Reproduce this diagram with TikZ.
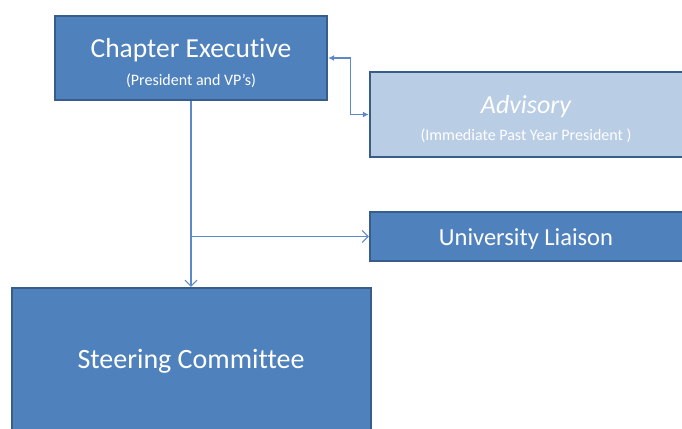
\documentclass[tikz,border=0pt]{standalone}
\usepackage{fontspec}
\setmainfont{Carlito}[Ligatures=NoCommon]
\usetikzlibrary{arrows.meta}
\definecolor{boxfill}{HTML}{4F81BD}
\definecolor{boxedge}{HTML}{385D8A}
\definecolor{advfill}{HTML}{B9CDE5}
\definecolor{conn}{HTML}{5B8AC6}
\tikzset{
  orgbox/.style={rectangle, draw=boxedge, line width=2.4pt, fill=boxfill, inner sep=0pt},
  advbox/.style={orgbox, fill=advfill},
  boxtext/.style={text=white, anchor=base, inner sep=0pt},
  link/.style={draw=conn, line width=1.1pt},
  openarrow/.style={-{Straight Barb[length=6pt,width=12pt,line width=1pt]}},
  solidarrows/.style={{Latex[length=6pt,width=6pt]}-{Latex[length=6pt,width=6pt]}}
}
\begin{document}
\begin{tikzpicture}[x=1pt,y=-1pt]
\useasboundingbox (0,0) rectangle (682,428);
\node[orgbox, minimum width=272pt, minimum height=84pt] (chap) at (191,58) {};
\node[advbox, minimum width=320pt, minimum height=85pt] (adv) at (530,114.5) {};
\node[orgbox, minimum width=320pt, minimum height=49pt] (univ) at (530,236.5) {};
\node[orgbox, minimum width=359pt, minimum height=146pt] (steer) at (191.5,361) {};
\node[boxtext, font=\fontsize{27.5}{30}\selectfont] (chapT) at (191,57) {Chapter Executive};
\node[boxtext, font=\fontsize{16}{20}\selectfont] (chapS) at (191,85) {(President and VP’s)};
\node[boxtext, font=\fontsize{26}{30}\selectfont\itshape] (advT) at (526,113) {Advisory};
\node[boxtext, font=\fontsize{16}{20}\selectfont] (advS) at (526,140) {(Immediate Past Year President )};
\node[boxtext, font=\fontsize{24.5}{28}\selectfont] (univT) at (526,245) {University Liaison};
\node[boxtext, font=\fontsize{28}{32}\selectfont] (steerT) at (191,368) {Steering Committee};
\coordinate (br) at (chap.south |- univ.west);
\draw[link, openarrow] (chap.south) -- (chap.south |- steer.north);
\draw[link, openarrow] (br) -- (univ.west);
\draw[link, solidarrows] (chap.east) -- ++(22,0) |- (adv.west);
\end{tikzpicture}
\end{document}
